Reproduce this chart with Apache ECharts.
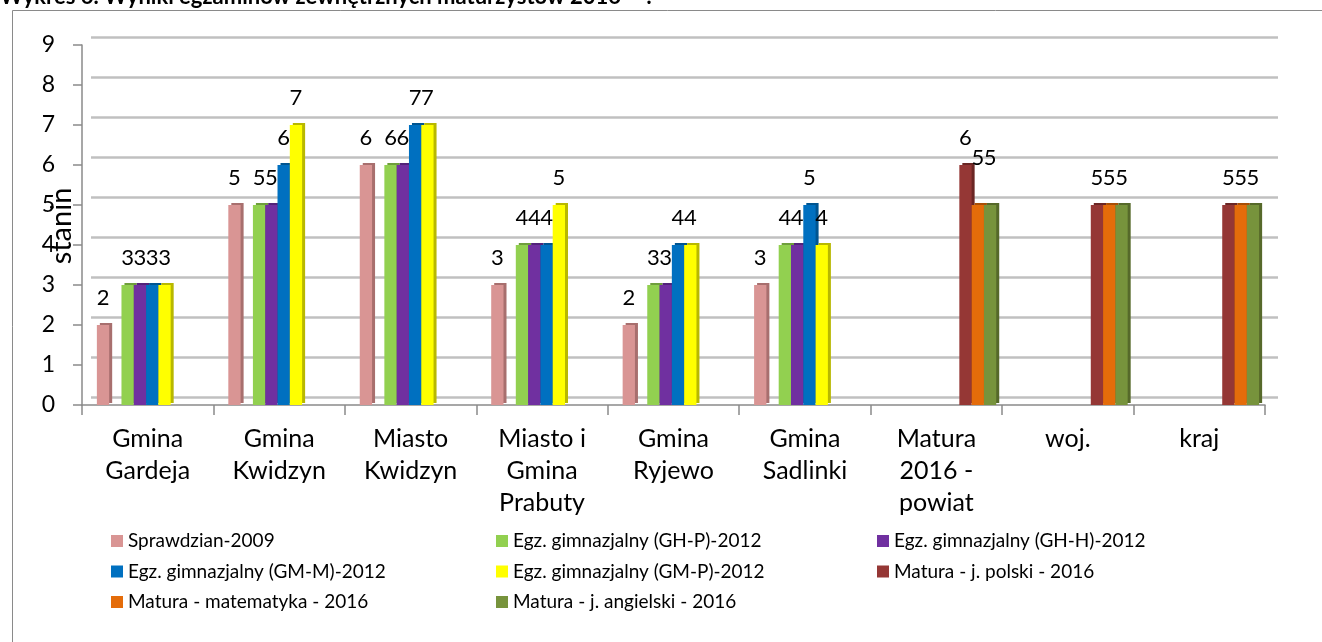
<!DOCTYPE html>
<html><head><meta charset="utf-8">
<script src="https://cdn.jsdelivr.net/npm/echarts@6/dist/echarts.min.js"></script>
<style>html,body{margin:0;padding:0;background:#fff}#c{width:1322px;height:642px}</style>
</head><body><div id="c"></div>
<script>
var categories = ['Gmina\nGardeja','Gmina\nKwidzyn','Miasto\nKwidzyn','Miasto i\nGmina\nPrabuty','Gmina\nRyjewo','Gmina\nSadlinki','Matura\n2016 -\npowiat','woj.','kraj'];
var seriesNames = ['Sprawdzian-2009','Egz. gimnazjalny (GH-P)-2012','Egz. gimnazjalny (GH-H)-2012','Egz. gimnazjalny (GM-M)-2012','Egz. gimnazjalny (GM-P)-2012','Matura - j. polski - 2016','Matura - matematyka - 2016','Matura - j. angielski - 2016'];
var sprawdzian = [2,5,6,3,2,3,null,null,null];
var ghp = [3,5,6,4,3,4,null,null,null];
var ghh = [3,5,6,4,3,4,null,null,null];
var gmm = [3,6,7,4,4,5,null,null,null];
var gmp = [3,7,7,5,4,4,null,null,null];
var maturaPol = [null,null,null,null,null,null,6,5,5];
var maturaMat = [null,null,null,null,null,null,5,5,5];
var maturaAng = [null,null,null,null,null,null,5,5,5];
var emptySlot = [null,null,null,null,null,null,null,null,null];
var yTicks = [0,1,2,3,4,5,6,7,8,9];

var colors = ['#d99594','#92d050','#7030a0','#0070c0','#ffff00','#953735','#e46c0a','#77933c'];
var sideColors = ['#a86f6e','#6f9e3c','#52237a','#005591','#b8b800','#6b2624','#a84f06','#56692a'];
var FONT = 'Lato';

function mk(idx, data, raiseIdx){
  var d = data.map(function(v, k){
    if (raiseIdx !== undefined && k === raiseIdx && v != null) return {value: v, label: {offset: [0, -20]}};
    return v;
  });
  return {
    name: seriesNames[idx], type: 'bar', data: d, barWidth: 12.3, barGap: '0%',
    itemStyle: {color: colors[idx], shadowColor: sideColors[idx], shadowOffsetX: 3, shadowOffsetY: -2, shadowBlur: 0},
    label: {show: true, position: 'top', distance: 16, fontSize: 22, fontFamily: FONT, color: '#000'},
    silent: true, z: 3
  };
}
var allData = [sprawdzian, ghp, ghh, gmm, gmp, maturaPol, maturaMat, maturaAng];
var series = [{name: '_pad', type: 'bar', data: emptySlot, barWidth: 9, barGap: '0%'}];
series.push(mk(0, sprawdzian));
series.push({name: '_gap', type: 'bar', data: emptySlot, barWidth: 12.3, barGap: '0%'});
for (var i = 1; i < 8; i++) series.push(mk(i, allData[i], (i === 6 || i === 7) ? 6 : undefined));
// back-wall gridlines
series.push({type: 'line', xAxisIndex: 1, yAxisIndex: 1, data: [], silent: true});

function legendCol(names, left){
  return {
    data: names, orient: 'vertical', left: left, top: 526,
    itemWidth: 12, itemHeight: 12, itemGap: 10.5, icon: 'rect',
    textStyle: {fontSize: 19, fontFamily: FONT, color: '#000', lineHeight: 20},
    selectedMode: false
  };
}

var chart = echarts.init(document.getElementById('c'));
chart.setOption({
  animation: false,
  color: colors,
  grid: [
    {left: 82, right: 57, top: 45, bottom: 237},
    {left: 91, right: 44, top: 37, bottom: 245}
  ],
  graphic: [
    {type: 'rect', shape: {x: 12.5, y: 10.5, width: 1330, height: 660}, style: {fill: 'none', stroke: '#8a8a8a', lineWidth: 1}, silent: true},
    {type: 'text', x: 0, y: 8, style: {text: 'Wykres 6. Wyniki egzaminów zewnętrznych maturzystów 2016 – ?', font: 'bold 22px ' + FONT, fill: '#000', verticalAlign: 'bottom'}, silent: true},
    {type: 'text', x: 62, y: 226, rotation: Math.PI / 2, z: 10, style: {text: 'stanin', font: '29px ' + FONT, fill: '#000', align: 'center', verticalAlign: 'middle'}, silent: true}
  ],
  legend: [
    legendCol([seriesNames[0], seriesNames[3], seriesNames[6]], 106),
    legendCol([seriesNames[1], seriesNames[4], seriesNames[7]], 491),
    legendCol([seriesNames[2], seriesNames[5]], 872)
  ],
  xAxis: [{
    type: 'category', data: categories, gridIndex: 0,
    axisLine: {lineStyle: {color: '#8a8a8a', width: 1.5}},
    axisTick: {show: true, length: 10, lineStyle: {color: '#8a8a8a', width: 1.5}},
    axisLabel: {interval: 0, fontSize: 25, lineHeight: 32, fontFamily: FONT, color: '#000', margin: 18}
  }, {
    type: 'category', data: categories, gridIndex: 1, show: false
  }],
  yAxis: [{
    type: 'value', gridIndex: 0, min: yTicks[0], max: yTicks[yTicks.length-1], interval: 1,
    axisLine: {show: true, lineStyle: {color: '#8a8a8a', width: 1.5}},
    axisTick: {show: true, length: 9, lineStyle: {color: '#8a8a8a', width: 1.5}},
    axisLabel: {fontSize: 23, fontFamily: FONT, color: '#000', margin: 27},
    splitLine: {show: false}
  }, {
    type: 'value', gridIndex: 1, min: yTicks[0], max: yTicks[yTicks.length-1], interval: 1,
    axisLine: {show: false}, axisTick: {show: false}, axisLabel: {show: false},
    splitLine: {lineStyle: {color: '#c0c0c0', width: 2.5}}
  }],
  series: series
});
</script></body></html>
